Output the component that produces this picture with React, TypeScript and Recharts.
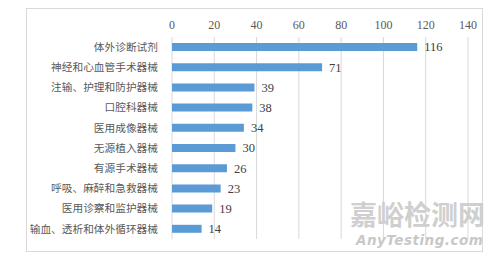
import { Bar, BarChart, CartesianGrid, LabelList, XAxis, YAxis } from "recharts"

const categories = [
  "体外诊断试剂",
  "神经和心血管手术器械",
  "注输、护理和防护器械",
  "口腔科器械",
  "医用成像器械",
  "无源植入器械",
  "有源手术器械",
  "呼吸、麻醉和急救器械",
  "医用诊察和监护器械",
  "输血、透析和体外循环器械",
]
const counts = [116, 71, 39, 38, 34, 30, 26, 23, 19, 14]
const xTicks = [0, 20, 40, 60, 80, 100, 120, 140]

const data = categories.map((name, i) => ({ name, value: counts[i] }))

export default function App() {
  return (
    <div style={{ position: "absolute", left: 0, top: 0, width: 500, height: 257, background: "#fff" }}>
      <div
        style={{
          position: "absolute",
          left: 26,
          top: 8,
          width: 457,
          height: 244,
          border: "1px solid #d9d9d9",
          boxSizing: "border-box",
        }}
      />
      <BarChart
        width={500}
        height={257}
        data={data}
        layout="vertical"
        margin={{ top: 17, right: 32, left: 32, bottom: 18 }}
      >
        <CartesianGrid horizontal={false} stroke="#d9d9d9" />
        <XAxis
          type="number"
          orientation="top"
          domain={[0, 140]}
          ticks={xTicks}
          height={20}
          axisLine={false}
          tickLine={false}
          tick={{ fill: "#595959", fontSize: 12, fontFamily: "Liberation Serif" }}
        />
        <YAxis
          type="category"
          dataKey="name"
          width={140}
          axisLine={false}
          tickLine={false}
          tickMargin={8}
          tick={{ fill: "#595959", fontSize: 10.7, fontFamily: "Noto Sans CJK SC" }}
        />
        <Bar dataKey="value" fill="#5b9bd5" barSize={8} isAnimationActive={false}>
          <LabelList
            dataKey="value"
            position="right"
            offset={7}
            fill="#404040"
            fontSize={12.5}
            fontFamily="Liberation Serif"
          />
        </Bar>
      </BarChart>
      {/* watermark */}
      <svg width={500} height={257} style={{ position: "absolute", left: 0, top: 0, pointerEvents: "none" }}>
        <text
          x={350}
          y={225}
          fontFamily="Noto Sans CJK SC"
          fontSize={27}
          fontWeight={700}
          fill="#cfcfcf"
        >
          嘉峪检测网
        </text>
        <text
          x={356}
          y={245}
          fontFamily="DejaVu Sans"
          fontSize={13.5}
          fontStyle="italic"
          fontWeight={700}
          fill="#c8c8c8"
          letterSpacing={0.5}
        >
          AnyTesting.com
        </text>
      </svg>
    </div>
  )
}
